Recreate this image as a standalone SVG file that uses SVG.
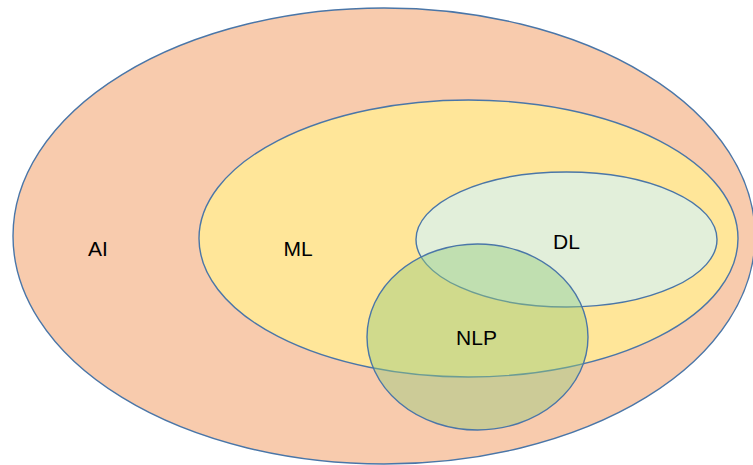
<svg xmlns="http://www.w3.org/2000/svg" width="753" height="465" viewBox="0 0 753 465">
<style>
.s{stroke:#4A76A8;stroke-width:1.4}
.t{font-family:"Liberation Sans",Arial,sans-serif;font-size:21px;fill:#000;text-anchor:middle}
</style>
<rect width="753" height="465" fill="#fff"/>
<g id="AI"><ellipse class="s" cx="384" cy="236" rx="371" ry="228" fill="#F8CBAD"/><text class="t" x="98" y="256">AI</text></g>
<g id="ML"><ellipse class="s" cx="468.5" cy="238.5" rx="269.5" ry="138.5" fill="#FFE699"/><text class="t" x="298" y="256">ML</text></g>
<g id="DL"><ellipse class="s" cx="566.5" cy="239.5" rx="150.5" ry="67.5" fill="#E2EFDA"/><text class="t" x="566.5" y="249">DL</text></g>
<g id="NLP"><ellipse class="s" cx="477.5" cy="337" rx="110.5" ry="93" fill="#96CB7C" fill-opacity="0.45"/><text class="t" x="476.5" y="345">NLP</text></g>
<g id="connectors"/>
</svg>
